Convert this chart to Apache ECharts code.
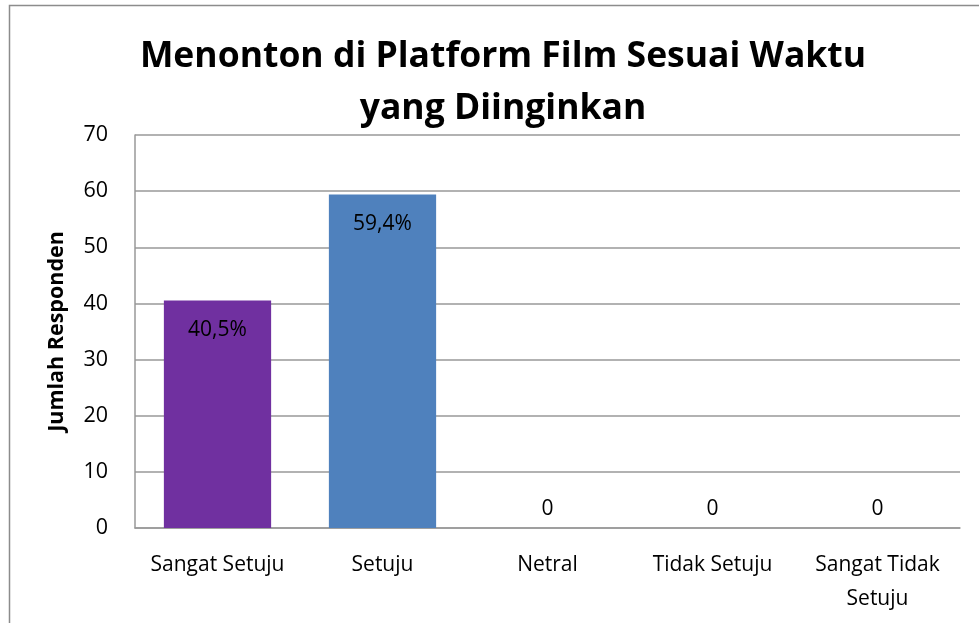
<!DOCTYPE html>
<html>
<head>
<meta charset="utf-8">
<script src="https://cdn.jsdelivr.net/npm/echarts@6/dist/echarts.min.js"></script>
<style>
  html, body { margin: 0; padding: 0; background: #fff; }
  #chart { width: 979px; height: 623px; }
</style>
</head>
<body>
<div id="chart"></div>
<script>
  var categories = ['Sangat Setuju', 'Setuju', 'Netral', 'Tidak Setuju', 'Sangat Tidak\nSetuju'];
  var values = [40.5, 59.4, 0, 0, 0];
  var valueLabels = ['40,5%', '59,4%', '0', '0', '0'];
  var barColors = ['#7030A0', '#4F81BD', '#4F81BD', '#4F81BD', '#4F81BD'];

  var font = '"Open Sans", "Noto Sans", sans-serif';

  var chart = echarts.init(document.getElementById('chart'));

  var option = {
    animation: false,
    textStyle: { fontFamily: font },
    graphic: [{
      type: 'rect',
      shape: { x: 9.5, y: 5.5, width: 1100, height: 800 },
      style: { fill: 'none', stroke: '#8c8c8c', lineWidth: 1.5 },
      silent: true
    }],
    title: {
      text: 'Menonton di Platform Film Sesuai Waktu\nyang Diinginkan',
      left: 498,
      top: 26,
      textAlign: 'center',
      textStyle: {
        fontFamily: font,
        fontSize: 35.5,
        fontWeight: 'bold',
        color: '#000',
        lineHeight: 52
      }
    },
    grid: { left: 135, right: 19, top: 135, bottom: 95, containLabel: false },
    xAxis: {
      type: 'category',
      data: categories,
      axisLine: { lineStyle: { color: '#999', width: 1.5 } },
      axisTick: { show: false },
      axisLabel: {
        color: '#000',
        fontSize: 21,
        margin: 20,
        lineHeight: 34,
        interval: 0
      }
    },
    yAxis: {
      type: 'value',
      min: 0,
      max: 70,
      interval: 10,
      name: 'Jumlah Responden',
      nameLocation: 'middle',
      nameGap: 67,
      nameTextStyle: { fontFamily: font, fontSize: 21.5, fontWeight: 'bold', color: '#000' },
      axisLine: { show: true, lineStyle: { color: '#999', width: 1.5 } },
      axisTick: { show: false },
      axisLabel: { color: '#000', fontSize: 21.5, margin: 27 },
      splitLine: { lineStyle: { color: '#999', width: 1.5 } }
    },
    series: [{
      type: 'bar',
      barCategoryGap: '35%',
      data: values.map(function (v, i) {
        return {
          value: v,
          itemStyle: { color: barColors[i] },
          label: v > 0
            ? { position: 'insideTop', distance: 19 }
            : { position: 'top', distance: 8 }
        };
      }),
      label: {
        show: true,
        color: '#000',
        fontSize: 21,
        formatter: function (p) { return valueLabels[p.dataIndex]; }
      }
    }]
  };

  chart.setOption(option);
</script>
</body>
</html>
